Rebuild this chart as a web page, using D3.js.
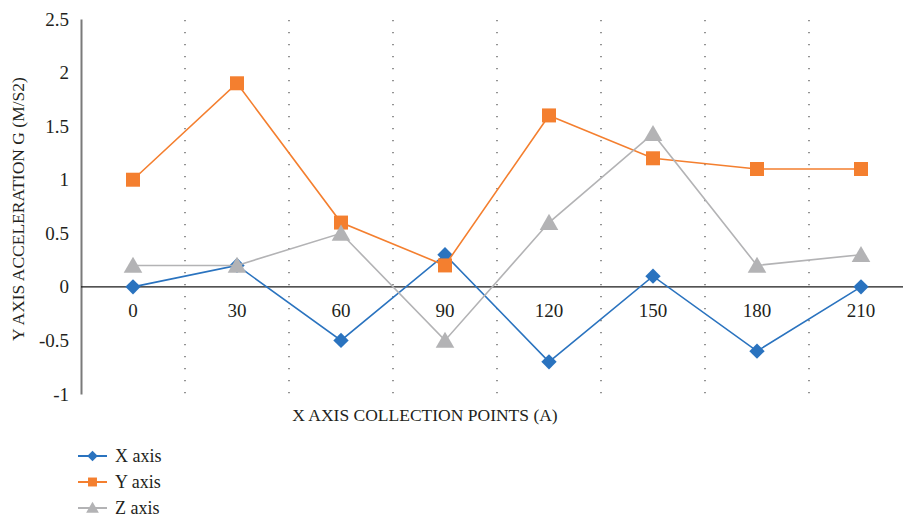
<!DOCTYPE html>
<html>
<head>
<meta charset="utf-8">
<script src="https://cdn.jsdelivr.net/npm/d3@7"></script>
<style>
  html, body { margin: 0; padding: 0; background: #fff; }
  svg { display: block; }
</style>
</head>
<body>
<svg id="chart" width="903" height="517"></svg>
<script>
// Collection points along the X axis
const categories = ["0", "30", "60", "90", "120", "150", "180", "210"];
// Acceleration readings (m/s²) for each sensor axis
const xAxisValues = [0, 0.2, -0.5, 0.3, -0.7, 0.1, -0.6, 0];
const yAxisValues = [1, 1.9, 0.6, 0.2, 1.6, 1.2, 1.1, 1.1];
const zAxisValues = [0.2, 0.2, 0.5, -0.5, 0.6, 1.43, 0.2, 0.3];
// Value axis ticks
const yTicks = [-1, -0.5, 0, 0.5, 1, 1.5, 2, 2.5];
const yTickLabels = ["-1", "-0.5", "0", "0.5", "1", "1.5", "2", "2.5"];

const seriesNames = ["X axis", "Y axis", "Z axis"];
const seriesValues = [xAxisValues, yAxisValues, zAxisValues];
const seriesColors = ["#2a73bf", "#f47f2f", "#b3b3b5"];
const seriesShapes = [d3.symbolDiamond2, d3.symbolSquare, d3.symbolTriangle];

const FONT = "Liberation Serif";
const textColor = "#231f20";

const svg = d3.select("#chart").attr("font-family", FONT);

const x = d3.scaleBand().domain(categories).range([81, 913]).paddingInner(0).paddingOuter(0);
const y = d3.scaleLinear().domain([-1, 2.5]).range([394, 19]);

// Dotted separators between collection points
svg.append("g")
  .selectAll("line")
  .data(categories)
  .join("line")
  .attr("x1", d => x(d) + x.bandwidth())
  .attr("x2", d => x(d) + x.bandwidth())
  .attr("y1", y(2.5) + 1)
  .attr("y2", y(-1))
  .attr("stroke", "#4d4d4d")
  .attr("stroke-width", 1.2)
  .attr("stroke-dasharray", "1.2 10.8");

// Value axis on the left
const yAxis = d3.axisLeft(y)
  .tickValues(yTicks)
  .tickFormat((d, i) => yTickLabels[i])
  .tickSize(0)
  .tickPadding(12);

const gy = svg.append("g").attr("transform", "translate(81,0)").call(yAxis)
  .attr("font-family", FONT).attr("font-size", 19);
gy.select(".domain").attr("stroke", "#7a7a7a").attr("stroke-width", 2);
gy.selectAll("text").attr("fill", textColor);

// Zero baseline
svg.append("line")
  .attr("x1", 81).attr("x2", 903)
  .attr("y1", y(0)).attr("y2", y(0))
  .attr("stroke", "#1a1a1a")
  .attr("stroke-width", 1.3);

// Category labels below the baseline
const xAxis = d3.axisBottom(x).tickSize(0).tickPadding(17);
const gx = svg.append("g").attr("transform", `translate(0,${y(0)})`).call(xAxis)
  .attr("font-family", FONT).attr("font-size", 19);
gx.select(".domain").remove();
gx.selectAll("text").attr("fill", textColor);

// Series lines and markers
const line = d3.line()
  .x((d, i) => x(categories[i]) + x.bandwidth() / 2)
  .y(d => y(d));

const markerSizes = [150, 196, 150];
seriesValues.forEach((vals, s) => {
  const g = svg.append("g");
  g.append("path")
    .datum(vals)
    .attr("d", line)
    .attr("fill", "none")
    .attr("stroke", seriesColors[s])
    .attr("stroke-width", 1.6);
  g.selectAll("path.mark")
    .data(vals)
    .join("path")
    .attr("class", "mark")
    .attr("transform", (d, i) => {
      const cx = x(categories[i]) + x.bandwidth() / 2;
      const cy = y(d) + (s === 2 ? 2 : 0);
      return `translate(${cx},${cy})`;
    })
    .attr("d", d3.symbol().type(seriesShapes[s]).size(markerSizes[s]))
    .attr("fill", seriesColors[s]);
});

// Axis titles
svg.append("text")
  .attr("transform", "translate(24,209) rotate(-90)")
  .attr("text-anchor", "middle")
  .attr("fill", textColor)
  .attr("font-family", FONT)
  .attr("font-size", 17.5)
  .text("Y AXIS ACCELERATION G (M/S2)");

svg.append("text")
  .attr("x", 425)
  .attr("y", 421)
  .attr("text-anchor", "middle")
  .attr("fill", textColor)
  .attr("font-family", FONT)
  .attr("font-size", 17.5)
  .text("X AXIS COLLECTION POINTS (A)");

// Legend
const legend = svg.append("g");
const legendY = [456, 482, 508];
seriesNames.forEach((name, s) => {
  const row = legend.append("g").attr("transform", `translate(0,${legendY[s]})`);
  row.append("line")
    .attr("x1", 78).attr("x2", 107)
    .attr("stroke", seriesColors[s])
    .attr("stroke-width", 2);
  row.append("path")
    .attr("transform", `translate(92.5,${s === 2 ? 1 : 0})`)
    .attr("d", d3.symbol().type(seriesShapes[s]).size([70, 80, 70][s]))
    .attr("fill", seriesColors[s]);
  row.append("text")
    .attr("x", 115)
    .attr("y", 6)
    .attr("fill", textColor)
    .attr("font-family", FONT)
    .attr("font-size", 18)
    .text(name);
});
</script>
</body>
</html>
